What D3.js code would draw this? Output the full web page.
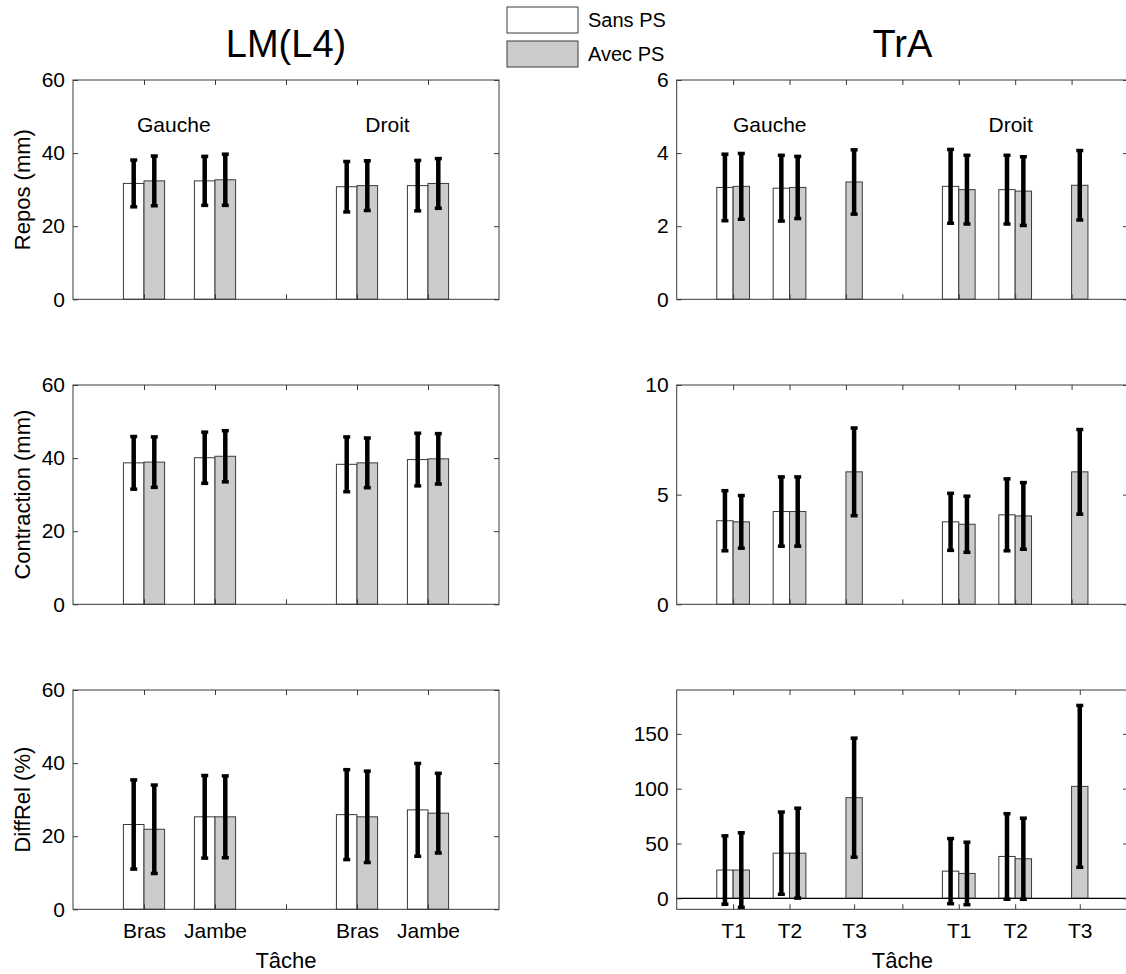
<!DOCTYPE html>
<html>
<head>
<meta charset="utf-8">
<script src="https://cdn.jsdelivr.net/npm/d3@7"></script>
<style>
  body { margin: 0; background: #fff; }
  svg { display: block; font-family: 'Liberation Sans', Arial, sans-serif; }
</style>
</head>
<body>
<svg id="chart" width="1126" height="974"></svg>
<script>
// texts
const legendLabels = ['Sans PS', 'Avec PS']
const muscleTitles = ['LM(L4)', 'TrA']
const sideLabels = ['Gauche', 'Droit']
const measureLabels = ['Repos (mm)', 'Contraction (mm)', 'DiffRel (%)']
const xAxisTitle = 'Tâche'

// categories
const lmTasks = ['Bras', 'Jambe', 'Bras', 'Jambe']
const lmPositions = [1, 2, 4, 5]
const traTasks = ['T1', 'T2', 'T3', 'T1', 'T2', 'T3']
const traPositions = [1, 2, 3, 5, 6, 7]

// LM(L4) means and sd
const lmReposSans = [31.7, 32.4, 30.8, 31.1]
const lmReposSansSd = [6.4, 6.7, 6.9, 6.9]
const lmReposAvec = [32.4, 32.7, 31.1, 31.7]
const lmReposAvecSd = [6.8, 7.0, 6.8, 6.8]
const lmContrSans = [38.7, 40.1, 38.3, 39.6]
const lmContrSansSd = [7.2, 7.0, 7.5, 7.2]
const lmContrAvec = [38.9, 40.5, 38.7, 39.8]
const lmContrAvecSd = [6.9, 7.0, 6.8, 6.9]
const lmDiffSans = [23.2, 25.3, 25.9, 27.2]
const lmDiffSansSd = [12.2, 11.3, 12.3, 12.7]
const lmDiffAvec = [21.9, 25.3, 25.3, 26.3]
const lmDiffAvecSd = [12.1, 11.2, 12.5, 10.9]

// TrA means and sd (no "sans" value for T3)
const traReposSans = [3.06, 3.04, null, 3.09, 3.0, null]
const traReposSansSd = [0.91, 0.9, null, 1.01, 0.94, null]
const traReposAvec = [3.09, 3.06, 3.21, 3.0, 2.96, 3.12]
const traReposAvecSd = [0.9, 0.85, 0.88, 0.94, 0.94, 0.95]
const traContrSans = [3.81, 4.23, null, 3.76, 4.08, null]
const traContrSansSd = [1.37, 1.58, null, 1.3, 1.64, null]
const traContrAvec = [3.76, 4.23, 6.04, 3.65, 4.03, 6.04]
const traContrAvecSd = [1.2, 1.58, 2.0, 1.28, 1.52, 1.93]
const traDiffSans = [25.8, 41.2, null, 24.8, 38.2, null]
const traDiffSansSd = [31.2, 37.5, null, 29.7, 39, null]
const traDiffAvec = [25.8, 41.2, 91.8, 22.7, 36.1, 102.1]
const traDiffAvecSd = [34, 41, 54.3, 28.5, 37, 73.8]

// axes
const lmYDomain = [0, 60]
const lmYTicks = [0, 20, 40, 60]
const traYDomains = [[0, 6], [0, 10], [-10, 190]]
const traYTicks = [[0, 2, 4, 6], [0, 5, 10], [0, 50, 100, 150]]

const svg = d3.select('#chart')
const rowTops = [80, 385, 690]
const rowHeight = 219.3
const colRanges = [[73, 499], [676.7, 1128]]
const barW = 0.29
const fontSize = 21

const panels = []
for (let r = 0; r < 3; r++) {
  panels.push({
    col: 0, row: r,
    xDomain: [0, 6],
    positions: lmPositions,
    tasks: lmTasks,
    ticks: [1, 2, 3, 4, 5],
    yDomain: lmYDomain,
    yTicks: lmYTicks,
    sans: [lmReposSans, lmContrSans, lmDiffSans][r],
    sansSd: [lmReposSansSd, lmContrSansSd, lmDiffSansSd][r],
    avec: [lmReposAvec, lmContrAvec, lmDiffAvec][r],
    avecSd: [lmReposAvecSd, lmContrAvecSd, lmDiffAvecSd][r],
    label: measureLabels[r],
    sidePos: [1.42, 4.43],
  })
  panels.push({
    col: 1, row: r,
    xDomain: [0, 8],
    positions: traPositions,
    tasks: traTasks,
    ticks: null,
    yDomain: traYDomains[r],
    yTicks: traYTicks[r],
    sans: [traReposSans, traContrSans, traDiffSans][r],
    sansSd: [traReposSansSd, traContrSansSd, traDiffSansSd][r],
    avec: [traReposAvec, traContrAvec, traDiffAvec][r],
    avecSd: [traReposAvecSd, traContrAvecSd, traDiffAvecSd][r],
    label: null,
    sidePos: [1.65, 5.92],
  })
}

for (const p of panels) {
  const top = rowTops[p.row]
  const bottom = top + rowHeight
  const x = d3.scaleLinear().domain(p.xDomain).range(colRanges[p.col])
  const y = d3.scaleLinear().domain(p.yDomain).range([bottom, top])
  const g = svg.append('g')

  // tick positions: in the last TrA row the T3 ticks sit at the bar centre
  let ticks = p.ticks
  let tickNames = null
  if (!ticks) {
    ticks = d3.range(1, 8)
    if (p.row === 2) {
      ticks = ticks.map((t) => {
        const i = p.positions.indexOf(t)
        return i >= 0 && p.sans[i] == null ? t + barW / 2 : t
      })
    }
  }
  tickNames = new Map()
  ticks.forEach((t) => {
    const i = p.positions.indexOf(Math.round(t))
    if (i >= 0) tickNames.set(t, p.tasks[i])
  })
  const tickLabel = (t) => tickNames.get(t) || ''

  // bars
  const bars = []
  p.positions.forEach((pos, i) => {
    if (p.sans[i] != null) bars.push({ x0: pos - barW, v: p.sans[i], fill: '#ffffff' })
    bars.push({ x0: pos, v: p.avec[i], fill: '#cccccc' })
  })
  g.selectAll('rect.bar')
    .data(bars)
    .enter()
    .append('rect')
    .attr('class', 'bar')
    .attr('x', (d) => x(d.x0))
    .attr('width', x(barW) - x(0))
    .attr('y', (d) => y(d.v))
    .attr('height', (d) => y(0) - y(d.v))
    .attr('fill', (d) => d.fill)
    .attr('stroke', '#3a3a3a')
    .attr('stroke-width', 1)

  if (p.yDomain[0] < 0) {
    g.append('line')
      .attr('x1', x(p.xDomain[0])).attr('x2', x(p.xDomain[1]))
      .attr('y1', y(0)).attr('y2', y(0))
      .attr('stroke', '#000').attr('stroke-width', 1.2)
  }

  // error bars
  const errs = []
  p.positions.forEach((pos, i) => {
    if (p.sans[i] != null) errs.push({ cx: pos - barW / 2, m: p.sans[i], sd: p.sansSd[i] })
    errs.push({ cx: pos + barW / 2, m: p.avec[i], sd: p.avecSd[i] })
  })
  const eg = g.selectAll('g.err').data(errs).enter().append('g').attr('class', 'err')
  eg.append('line')
    .attr('x1', (d) => x(d.cx)).attr('x2', (d) => x(d.cx))
    .attr('y1', (d) => y(d.m - d.sd)).attr('y2', (d) => y(d.m + d.sd))
    .attr('stroke', '#000').attr('stroke-width', 4.5)
  for (const sign of [-1, 1]) {
    eg.append('line')
      .attr('x1', (d) => x(d.cx) - 3.5).attr('x2', (d) => x(d.cx) + 3.5)
      .attr('y1', (d) => y(d.m + sign * d.sd)).attr('y2', (d) => y(d.m + sign * d.sd))
      .attr('stroke', '#000').attr('stroke-width', 3.5)
  }

  // box
  g.append('rect')
    .attr('x', x(p.xDomain[0])).attr('y', top)
    .attr('width', x(p.xDomain[1]) - x(p.xDomain[0])).attr('height', rowHeight)
    .attr('fill', 'none').attr('stroke', '#3a3a3a').attr('stroke-width', 1)

  // axes, ticks pointing inward
  const styleAxis = (sel) => {
    sel.select('.domain').remove()
    sel.selectAll('line').attr('stroke', '#3a3a3a')
    sel.selectAll('text').attr('font-size', fontSize).attr('fill', '#000')
  }
  g.append('g')
    .attr('transform', `translate(${x(p.xDomain[0])},0)`)
    .call(d3.axisLeft(y).tickValues(p.yTicks).tickSize(-5).tickPadding(8).tickFormat(d3.format('d')))
    .call(styleAxis)
  g.append('g')
    .attr('transform', `translate(${x(p.xDomain[1])},0)`)
    .call(d3.axisRight(y).tickValues(p.yTicks).tickSize(-5).tickFormat(''))
    .call(styleAxis)
  g.append('g')
    .attr('transform', `translate(0,${top})`)
    .call(d3.axisTop(x).tickValues(ticks).tickSize(-5).tickFormat(''))
    .call(styleAxis)
  g.append('g')
    .attr('transform', `translate(0,${bottom})`)
    .call(d3.axisBottom(x).tickValues(ticks).tickSize(-5).tickPadding(14)
      .tickFormat(p.row === 2 ? tickLabel : ''))
    .call(styleAxis)

  if (p.label) {
    g.append('text')
      .attr('transform', `translate(30,${(top + bottom) / 2}) rotate(-90)`)
      .attr('text-anchor', 'middle')
      .attr('font-size', 22)
      .text(p.label)
  }

  if (p.row === 0) {
    const sideY = y(p.yDomain[1] * 0.765)
    p.sidePos.forEach((pos, i) => {
      g.append('text')
        .attr('x', x(pos)).attr('y', sideY)
        .attr('text-anchor', 'middle')
        .attr('font-size', fontSize)
        .text(sideLabels[i])
    })
    g.append('text')
      .attr('x', p.col === 0 ? x(3) : x(4))
      .attr('y', 57)
      .attr('text-anchor', 'middle')
      .attr('font-size', 38)
      .text(muscleTitles[p.col])
  }
  if (p.row === 2) {
    g.append('text')
      .attr('x', p.col === 0 ? x(3) : x(4))
      .attr('y', 968)
      .attr('text-anchor', 'middle')
      .attr('font-size', 22)
      .text(xAxisTitle)
  }
}

// legend
const legend = svg.append('g').attr('transform', 'translate(507,7)')
legendLabels.forEach((lab, i) => {
  legend.append('rect')
    .attr('x', 0).attr('y', i * 34)
    .attr('width', 71).attr('height', 26)
    .attr('fill', i === 0 ? '#ffffff' : '#cccccc')
    .attr('stroke', '#3a3a3a')
  legend.append('text')
    .attr('x', 81).attr('y', i * 34 + 13)
    .attr('dy', '0.35em')
    .attr('font-size', 20)
    .text(lab)
})
</script>
</body>
</html>
